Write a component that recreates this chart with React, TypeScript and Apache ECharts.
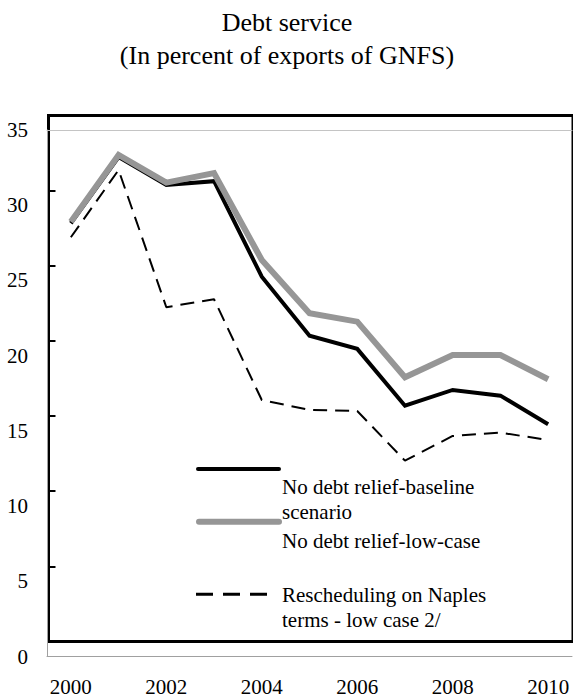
import React, { useEffect, useRef } from "react";
import * as echarts from "echarts";

// Years on the horizontal axis
const years = ["2000", "2001", "2002", "2003", "2004", "2005", "2006", "2007", "2008", "2009", "2010"];

// Debt service, in percent of exports of GNFS
const baselineScenario = [28.8, 33.2, 31.35, 31.6, 25.25, 21.33, 20.45, 16.67, 17.72, 17.34, 15.44];
const lowCase = [28.9, 33.34, 31.5, 32.13, 26.36, 22.82, 22.26, 18.56, 20.04, 20.04, 18.43];
const naplesLowCase = [27.87, 32.34, 23.22, 23.75, 17.05, 16.39, 16.32, 13.02, 14.66, 14.88, 14.39];

// Tick marks along the inside of the plot frame
const frameTicks = [5, 10, 15, 20, 25, 30];

const titleLines = ["Debt service", "(In percent of exports of GNFS)"];
const legendNames = [
  ["No debt relief-baseline", "scenario"],
  ["No debt relief-low-case"],
  ["Rescheduling on Naples", "terms - low case 2/"],
];

const FONT = "'Liberation Serif', 'Times New Roman', serif";

export default function App() {
  const ref = useRef<HTMLDivElement>(null);

  useEffect(() => {
    if (!ref.current) return;
    const chart = echarts.init(ref.current, null, { renderer: "svg" });

    const text = (s: string, x: number, y: number, size: number, align = "left") => ({
      type: "text",
      x,
      y,
      style: {
        text: s,
        font: `${size}px ${FONT}`,
        fill: "#000",
        textAlign: align,
        textVerticalAlign: "middle",
      },
    });

    const seg = (y: number, x1: number, x2: number, color: string, width: number, dash?: number[]) => ({
      type: "line",
      shape: { x1, y1: y, x2, y2: y },
      style: { stroke: color, lineWidth: width, lineCap: dash ? "butt" : "round", lineDash: dash },
    });

    chart.setOption({
      animation: false,
      backgroundColor: "#fff",
      grid: [
        { left: 47, top: 130, width: 525, height: 526.5 },
        {
          left: 48.5,
          top: 115.5,
          width: 530,
          height: 526,
          show: true,
          borderColor: "#000",
          borderWidth: 3,
          backgroundColor: "transparent",
        },
      ],
      xAxis: [
        {
          type: "category",
          gridIndex: 0,
          data: years,
          boundaryGap: true,
          axisLine: { show: true, lineStyle: { color: "#a0a0a0", width: 1 } },
          axisTick: { show: false },
          axisLabel: { interval: 1, fontSize: 21, fontFamily: FONT, color: "#000", margin: 20 },
          splitLine: { show: false },
        },
        {
          type: "category",
          gridIndex: 0,
          position: "top",
          data: years,
          axisLine: { show: true, lineStyle: { color: "#c4c4c4", width: 1 } },
          axisTick: { show: false },
          axisLabel: { show: false },
          splitLine: { show: false },
        },
        { type: "value", gridIndex: 1, min: 0, max: 1, show: false },
      ],
      yAxis: [
        {
          type: "value",
          gridIndex: 0,
          min: 0,
          max: 35,
          interval: 5,
          axisLine: { show: true, lineStyle: { color: "#a0a0a0", width: 1 } },
          axisTick: { show: false },
          splitLine: { show: false },
          axisLabel: { fontSize: 21, fontFamily: FONT, color: "#000", margin: 19 },
        },
        {
          type: "value",
          gridIndex: 1,
          min: 0,
          max: 35,
          interval: 5,
          axisLine: { show: false },
          axisTick: {
            show: true,
            inside: true,
            length: 7,
            customValues: frameTicks,
            lineStyle: { color: "#000", width: 2 },
          },
          axisLabel: { show: false },
          splitLine: { show: false },
        },
      ],
      series: [
        {
          name: "No debt relief-baseline scenario",
          type: "line",
          xAxisIndex: 0,
          yAxisIndex: 0,
          data: baselineScenario,
          symbol: "none",
          lineStyle: { color: "#000", width: 4, join: "miter" },
          z: 3,
        },
        {
          name: "No debt relief-low-case",
          type: "line",
          xAxisIndex: 0,
          yAxisIndex: 0,
          data: lowCase,
          symbol: "none",
          lineStyle: { color: "#969696", width: 6, join: "miter" },
          z: 4,
        },
        {
          name: "Rescheduling on Naples terms - low case 2/",
          type: "line",
          xAxisIndex: 0,
          yAxisIndex: 0,
          data: naplesLowCase,
          symbol: "none",
          lineStyle: { color: "#000", width: 2, type: [14, 8] },
          z: 5,
        },
      ],
      graphic: [
        text(titleLines[0], 287, 22, 26, "center"),
        text(titleLines[1], 287, 55, 26, "center"),
        seg(469, 198, 279, "#000", 4),
        seg(521.7, 199, 279, "#969696", 6),
        seg(594.3, 196, 277, "#000", 3, [17, 10]),
        text(legendNames[0][0], 282, 487, 21),
        text(legendNames[0][1], 282, 511.7, 21),
        text(legendNames[1][0], 282, 540.7, 21),
        text(legendNames[2][0], 282, 595, 21),
        text(legendNames[2][1], 282, 620, 21),
      ],
    });

    return () => chart.dispose();
  }, []);

  return (
    <div
      ref={ref}
      style={{ position: "absolute", left: 0, top: 0, width: 573, height: 700 }}
    />
  );
}
